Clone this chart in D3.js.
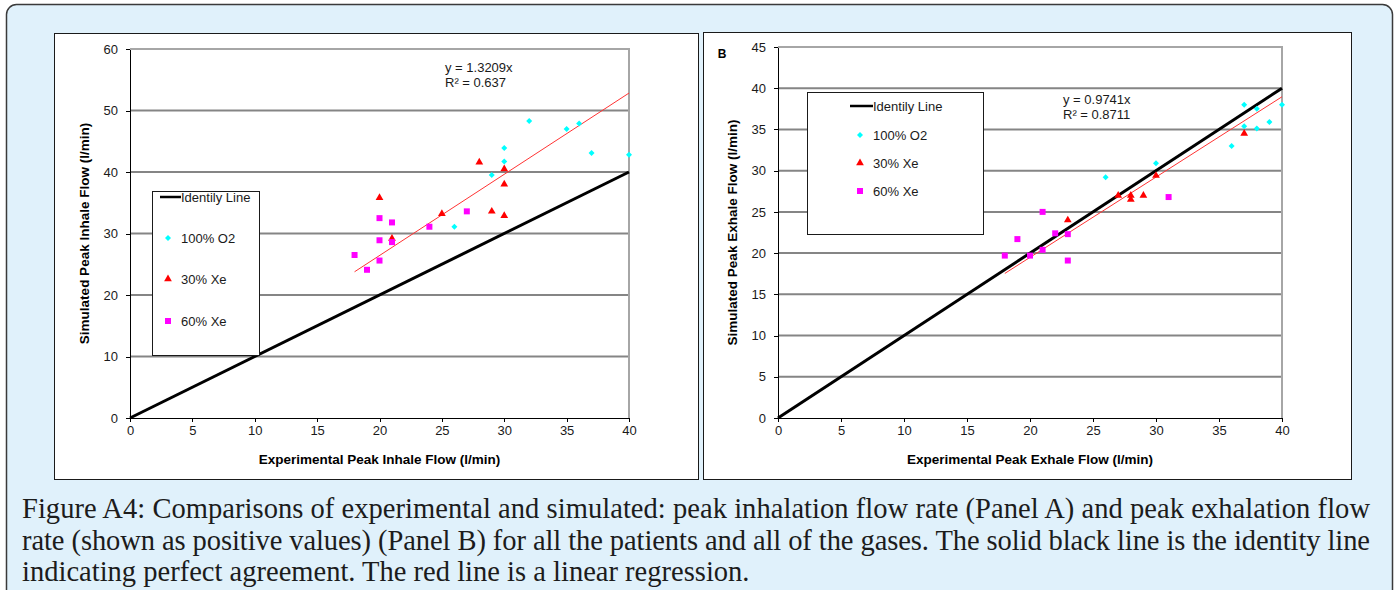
<!DOCTYPE html>
<html lang="en">
<head>
    <meta charset="UTF-8">
    <title>Figure A4</title>
    <style>
        body{ margin:0; background:#fff; }
        .axis text{ font:13px "Liberation Sans", Arial, sans-serif; fill:#1a1a1a; }
        .axis path, .axis line{ stroke:#000; shape-rendering:crispEdges; }
        .grid line{ stroke:#858585; stroke-width:2; }
        .title{ font:bold 13.5px "Liberation Sans", Arial, sans-serif; fill:#000; text-anchor:middle; }
        .legend text, .eq{ font:13px "Liberation Sans", Arial, sans-serif; fill:#1a1a1a; }
        .caption{ font-family:"Liberation Serif", "DejaVu Serif", serif; fill:#1c1c1c; }
    </style>
</head>
<body>
    <svg class="chart" width="1395" height="590"></svg>
    <script src="https://cdn.jsdelivr.net/npm/d3@7"></script>
    <script>
        // ---- data: [experimental, simulated]
        var inhaleO2   = [[32,48.3],[35,47.0],[36,47.9],[30,43.9],[30,41.7],[29,39.5],[37,43.1],[40,42.8],[26,31.1]];
        var inhaleXe30 = [[28,41.6],[30,40.5],[30,38.0],[20,35.8],[25,33.2],[29,33.6],[30,32.9],[21,29.2]];
        var inhaleXe60 = [[20,32.5],[21,31.8],[24,31.1],[27,33.6],[20,28.9],[21,28.6],[18,26.5],[20,25.6],[19,24.1]];

        var exhaleO2   = [[37,38.0],[38,37.5],[40,38.0],[37,35.4],[38,35.1],[39,35.9],[36,33.0],[30,30.9],[26,29.2]];
        var exhaleXe30 = [[37,34.5],[30,29.4],[27,27.0],[28,27.0],[28,26.5],[29,27.0],[23,24.0]];
        var exhaleXe60 = [[31,26.8],[21,25.0],[22,22.4],[23,22.3],[19,21.7],[18,19.7],[20,19.7],[21,20.4],[23,19.1]];

        var xTicks  = [0,5,10,15,20,25,30,35,40];
        var yTicksA = [0,10,20,30,40,50,60];
        var yTicksB = [0,5,10,15,20,25,30,35,40,45];

        var slopeA = 1.3209, r2A = "0.637";
        var slopeB = 0.9741, r2B = "0.8711";
        var fitRange = [18, 40];

        var seriesNames = ["100% O2", "30% Xe", "60% Xe"];
        var seriesColors = ["#00ffff", "#ff0000", "#ff00ff"];

        var captionLines = [
            "Figure A4: Comparisons of experimental and simulated: peak inhalation flow rate (Panel A) and peak exhalation flow",
            "rate (shown as positive values) (Panel B) for all the patients and all of the gases. The solid black line is the identity line",
            "indicating perfect agreement. The red line is a linear regression."
        ];

        var svg = d3.select("svg");

        // light blue page box
        svg.append("rect")
            .attr("x", 6.5).attr("y", 4.5)
            .attr("width", 1386).attr("height", 640)
            .attr("rx", 10)
            .attr("fill", "#e0f1fb")
            .attr("stroke", "#3a3a3a")
            .attr("stroke-width", 1.5);

        function marker(i){
            if(i == 0) return d3.symbol().type(d3.symbolSquare).size(18)();
            if(i == 1) return d3.symbol().type(d3.symbolTriangle).size(26)();
            return d3.symbol().type(d3.symbolSquare).size(36)();
        }

        function panel(opt){
            svg.append("rect")
                .attr("x", opt.frame[0] + 0.5).attr("y", opt.frame[1] + 0.5)
                .attr("width", opt.frame[2]).attr("height", opt.frame[3])
                .attr("fill", "#fff").attr("stroke", "#1a1a1a");

            var x = d3.scaleLinear().domain([0, 40]).range([opt.left, opt.right]);
            var y = d3.scaleLinear().domain([0, opt.yMax]).range([opt.bottom, opt.top]);
            var g = svg.append("g");

            // gridlines
            g.append("g").attr("class", "grid")
                .selectAll("line")
                .data(opt.yTicks.filter(function(d){ return d > 0 && d < opt.yMax; }))
                .enter().append("line")
                .attr("x1", opt.left).attr("x2", opt.right)
                .attr("y1", function(d){ return y(d); })
                .attr("y2", function(d){ return y(d); });

            // plot area border (top/right, grey)
            g.append("path")
                .attr("d", "M" + opt.left + "," + y(opt.yMax) + "H" + x(40) + "V" + opt.bottom)
                .attr("fill", "none").attr("stroke", "#a6a6a6").attr("stroke-width", 2);

            // identity line
            g.append("line")
                .attr("x1", x(0)).attr("y1", y(0))
                .attr("x2", x(40)).attr("y2", y(40))
                .attr("stroke", "#000").attr("stroke-width", 3);

            // regression line
            g.append("line")
                .attr("x1", x(fitRange[0])).attr("y1", y(opt.slope * fitRange[0]))
                .attr("x2", x(fitRange[1])).attr("y2", y(opt.slope * fitRange[1]))
                .attr("stroke", "#ff3333").attr("stroke-width", 1);

            // points
            opt.series.forEach(function(s, i){
                g.append("g").selectAll("path")
                    .data(s)
                    .enter().append("path")
                    .attr("d", marker(i))
                    .attr("fill", seriesColors[i])
                    .attr("transform", function(d){
                        return "translate(" + x(d[0]) + "," + y(d[1]) + ")" + (i == 0 ? " rotate(45)" : "");
                    });
            });

            // axes
            g.append("g").attr("class", "axis")
                .attr("transform", "translate(" + opt.left + ",0)")
                .call(d3.axisLeft(y).tickValues(opt.yTicks).tickSize(4).tickSizeOuter(0).tickPadding(8));
            g.append("g").attr("class", "axis")
                .attr("transform", "translate(0," + opt.bottom + ")")
                .call(d3.axisBottom(x).tickValues(xTicks).tickSize(4).tickSizeOuter(0).tickPadding(4));

            // axis titles
            svg.append("text").attr("class", "title")
                .attr("x", (opt.left + opt.right) / 2).attr("y", 464)
                .text(opt.xTitle);
            svg.append("text").attr("class", "title")
                .attr("transform", "translate(" + opt.yTitleX + "," + (opt.top + opt.bottom) / 2 + ") rotate(-90)")
                .text(opt.yTitle);

            // trendline equation
            var eq = svg.append("text").attr("class", "eq")
                .attr("x", opt.eq[0]).attr("y", opt.eq[1]);
            eq.append("tspan").attr("x", opt.eq[0]).text("y = " + opt.slope + "x");
            eq.append("tspan").attr("x", opt.eq[0]).attr("dy", 15).text("R² = " + opt.r2);

            // legend
            var L = opt.legend;
            var leg = svg.append("g").attr("class", "legend");
            leg.append("rect")
                .attr("x", L.box[0] + 0.5).attr("y", L.box[1] + 0.5)
                .attr("width", L.box[2]).attr("height", L.box[3])
                .attr("fill", "#fff").attr("stroke", "#1a1a1a");
            leg.append("line")
                .attr("x1", L.lineX[0]).attr("x2", L.lineX[1])
                .attr("y1", L.rows[0]).attr("y2", L.rows[0])
                .attr("stroke", "#000").attr("stroke-width", 2.5);
            leg.append("text")
                .attr("x", L.textX).attr("y", L.rows[0]).attr("dy", "0.35em")
                .text("Identily Line");
            seriesNames.forEach(function(name, i){
                leg.append("path")
                    .attr("d", marker(i))
                    .attr("fill", seriesColors[i])
                    .attr("transform", "translate(" + L.markX + "," + L.rows[i + 1] + ")" + (i == 0 ? " rotate(45)" : ""));
                leg.append("text")
                    .attr("x", L.textX).attr("y", L.rows[i + 1]).attr("dy", "0.35em")
                    .text(name);
            });
        }

        panel({
            frame: [54, 33, 644, 446],
            left: 130, right: 629, top: 49, bottom: 418, yMax: 60,
            yTicks: yTicksA, slope: slopeA, r2: r2A,
            series: [inhaleO2, inhaleXe30, inhaleXe60],
            xTitle: "Experimental Peak Inhale Flow (l/min)",
            yTitle: "Simulated Peak Inhale Flow (l/min)", yTitleX: 89,
            eq: [445, 72],
            legend: { box: [152, 191, 107, 164], lineX: [160, 181], textX: 181, markX: 168, rows: [197, 238, 279, 321] }
        });

        panel({
            frame: [703, 32, 648, 447],
            left: 778, right: 1282, top: 47, bottom: 418, yMax: 45,
            yTicks: yTicksB, slope: slopeB, r2: r2B,
            series: [exhaleO2, exhaleXe30, exhaleXe60],
            xTitle: "Experimental Peak Exhale Flow (l/min)",
            yTitle: "Simulated Peak Exhale Flow (l/min)", yTitleX: 737,
            eq: [1063, 104],
            legend: { box: [807, 92, 176, 142], lineX: [850, 873], textX: 873, markX: 860, rows: [106, 135, 163, 191] }
        });

        svg.append("text")
            .attr("x", 722).attr("y", 58)
            .attr("text-anchor", "middle")
            .style("font", "bold 12px 'Liberation Sans', Arial, sans-serif")
            .text("B");

        // caption: size the font so the last line ends where it does in the figure
        var cap = svg.append("g").attr("class", "caption");
        var probe = cap.append("text").style("font-size", "20px").text(captionLines[2]);
        var fs = 20 * 728 / probe.node().getComputedTextLength();
        probe.remove();

        cap.selectAll("text")
            .data(captionLines)
            .enter().append("text")
            .attr("x", 22)
            .attr("y", function(d, i){ return 518 + i * 31.5; })
            .style("font-size", fs + "px")
            .attr("textLength", function(d, i){ return i < 2 ? 1348 : null; })
            .attr("lengthAdjust", "spacing")
            .text(function(d){ return d; });
    </script>
</body>
</html>
